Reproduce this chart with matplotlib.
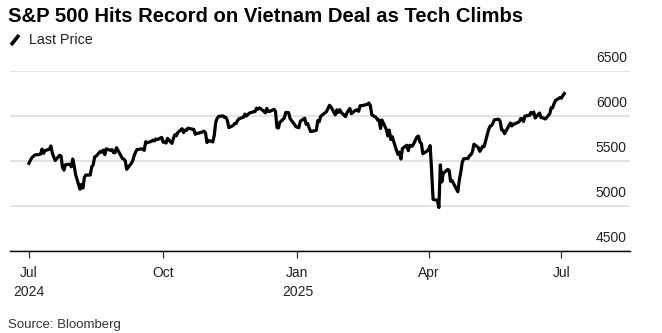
import numpy as np
import pandas as pd
import matplotlib
matplotlib.use("Agg")
import matplotlib.pyplot as plt
import matplotlib.dates as mdates
from matplotlib.lines import Line2D
from matplotlib.transforms import blended_transform_factory

plt.rcParams['font.family'] = ['Liberation Sans', 'DejaVu Sans']

title = "S&P 500 Hits Record on Vietnam Deal as Tech Climbs"
series_name = "Last Price"
source = "Source: Bloomberg"

# trading days Jul 1 2024 - Jul 3 2025 (US market holidays removed)
holidays = ["2024-07-04", "2024-09-02", "2024-11-28", "2024-12-25",
            "2025-01-01", "2025-01-09", "2025-01-20", "2025-02-17",
            "2025-04-18", "2025-05-26", "2025-06-19"]

# S&P 500 closing levels
closes = [
    # Jul 2024
    5475, 5509, 5537, 5567, 5572, 5577, 5633, 5585, 5615, 5631, 5667,
    5589, 5545, 5505, 5564, 5555, 5427, 5399, 5459, 5464, 5436, 5522,
    # Aug 2024
    5446, 5347, 5186, 5240, 5199, 5319, 5344, 5344, 5434, 5455, 5543,
    5554, 5608, 5597, 5621, 5571, 5635, 5617, 5626, 5592, 5592, 5648,
    # Sep 2024
    5529, 5520, 5503, 5408, 5471, 5496, 5554, 5596, 5626, 5634, 5634,
    5618, 5714, 5703, 5719, 5732, 5722, 5745, 5738, 5762,
    # Oct 2024
    5709, 5710, 5700, 5751, 5696, 5751, 5792, 5780, 5815, 5859, 5815,
    5843, 5841, 5865, 5853, 5851, 5797, 5809, 5808, 5823, 5832, 5813, 5705,
    # Nov 2024
    5729, 5712, 5782, 5929, 5973, 5996, 6001, 5984, 5985, 5949, 5871,
    5894, 5917, 5917, 5949, 5969, 5987, 6021, 5999, 6032,
    # Dec 2024
    6047, 6050, 6087, 6075, 6090, 6053, 6034, 6084, 6051, 6051, 6074,
    6050, 5872, 5867, 5931, 5975, 6040, 6037, 5971, 5907, 5882,
    # Jan 2025
    5869, 5942, 5975, 5909, 5918, 5827, 5836, 5843, 5950, 5937, 5997,
    6049, 6086, 6119, 6101, 6012, 6068, 6039, 6071, 6041,
    # Feb 2025
    5994, 6037, 6061, 6084, 6026, 6066, 6068, 6052, 6115, 6115, 6129,
    6144, 6117, 6013, 5983, 5955, 5956, 5861, 5955,
    # Mar 2025
    5850, 5778, 5843, 5739, 5770, 5615, 5572, 5599, 5522, 5639, 5675,
    5615, 5675, 5663, 5668, 5768, 5777, 5712, 5693, 5581, 5612,
    # Apr 2025
    5633, 5671, 5397, 5074, 5062, 4983, 5457, 5268, 5363, 5406, 5397,
    5276, 5283, 5158, 5288, 5376, 5485, 5525, 5529, 5561, 5569,
    # May 2025
    5604, 5687, 5650, 5607, 5631, 5664, 5660, 5844, 5886, 5893, 5917,
    5958, 5964, 5941, 5845, 5842, 5803, 5922, 5889, 5912, 5912,
    # Jun 2025
    5936, 5970, 5971, 5939, 6000, 6006, 6039, 6023, 6045, 5977, 6033,
    5983, 5981, 5967, 6025, 6092, 6092, 6141, 6173, 6205,
    # Jul 2025
    6198, 6227, 6250,
]

dates = pd.bdate_range("2024-07-01", "2025-07-03", freq="C", holidays=holidays)

y_ticks = [4500, 5000, 5500, 6000, 6500]
x_ticks = ["2024-07-01", "2024-10-01", "2025-01-01", "2025-04-01", "2025-07-01"]
x_labels = ["Jul\n2024", "Oct", "Jan\n2025", "Apr", "Jul"]

W, H = 662, 333
fig = plt.figure(figsize=(W / 100, H / 100), dpi=100)
ax = fig.add_axes([10 / W, (H - 251) / H, 620 / W, 180 / H])

ax.plot(dates, closes, color="black", lw=2.3, solid_joinstyle="round", zorder=3)

ax.set_ylim(4500, 6500)
ax.set_xlim(pd.Timestamp("2024-06-18"), pd.Timestamp("2025-08-17"))

ax.set_yticks(y_ticks)
ax.tick_params(axis="y", length=0, labelleft=False)
ax.yaxis.grid(True, color="#e1e1e1", lw=1.3)
ax.set_axisbelow(True)
trans = blended_transform_factory(ax.transAxes, ax.transData)
for v in y_ticks:
    ax.text(0.995, v + 70, str(v), transform=trans, ha="right", va="bottom",
            fontsize=10, color="#222222")

ax.set_xticks(pd.to_datetime(x_ticks))
ax.set_xticklabels(x_labels, fontsize=10, color="#222222", linespacing=1.45)
ax.tick_params(axis="x", direction="out", length=5, width=0.9, color="#333333", pad=6)

for s in ["top", "right", "left"]:
    ax.spines[s].set_visible(False)
ax.spines["bottom"].set_color("black")
ax.spines["bottom"].set_linewidth(1.0)
ax.spines["bottom"].set_zorder(4)

fig.text(8 / W, 1 - 16 / H, title, fontsize=14.6, weight="bold", va="center", ha="left")
fig.add_artist(Line2D([11 / W, 19 / W], [1 - 45 / H, 1 - 35 / H], color="black",
                      lw=2.6, solid_capstyle="butt"))
fig.text(29 / W, 1 - 40 / H, series_name, fontsize=10.3, va="center", ha="left", color="#222222")
fig.text(8 / W, 1 - 325 / H, source, fontsize=9.5, va="center", ha="left", color="#333333")

fig.savefig("out.png", dpi=100)
